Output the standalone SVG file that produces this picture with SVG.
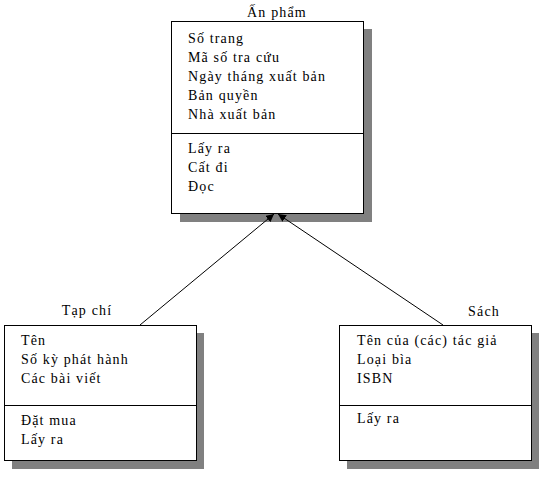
<svg xmlns="http://www.w3.org/2000/svg" width="549" height="480" viewBox="0 0 549 480">
<style>
text{font-family:"Liberation Serif","Times New Roman",serif;font-size:14px;fill:#000;letter-spacing:1.15px}
.box{fill:#fff;stroke:#000;stroke-width:1}
.shadow{fill:#808080}
.sep{stroke:#000;stroke-width:1}
.conn{stroke:#000;stroke-width:1;fill:none}
.t{text-anchor:middle}
</style>
<defs>
<marker id="arr" viewBox="0 0 10 10" refX="10" refY="5" markerWidth="8" markerHeight="8" orient="auto" markerUnits="userSpaceOnUse">
<path d="M0,0 L10,5 L0,10 z" fill="#000"/>
</marker>
</defs>
<rect width="549" height="480" fill="#fff"/>
<g id="an-pham">
<rect class="shadow" x="180" y="29" width="192" height="193"/>
<rect class="box" x="171.5" y="21.5" width="192" height="192"/>
<line class="sep" x1="171.5" y1="133.5" x2="363.5" y2="133.5"/>
<text class="t" x="277" y="17">Ấn phẩm</text>
<text x="188" y="43">Số trang</text>
<text x="188" y="62">Mã số tra cứu</text>
<text x="188" y="81">Ngày tháng xuất bản</text>
<text x="188" y="100">Bản quyền</text>
<text x="188" y="119">Nhà xuất bản</text>
<text x="188" y="153">Lấy ra</text>
<text x="188" y="172">Cất đi</text>
<text x="188" y="191">Đọc</text>
</g>
<g id="tap-chi">
<rect class="shadow" x="12" y="333" width="192" height="136"/>
<rect class="box" x="4.5" y="325.5" width="192" height="135"/>
<line class="sep" x1="4.5" y1="405.5" x2="196.5" y2="405.5"/>
<text class="t" x="87" y="315">Tạp chí</text>
<text x="21" y="345">Tên</text>
<text x="21" y="364">Số kỳ phát hành</text>
<text x="21" y="383">Các bài viết</text>
<text x="21" y="425">Đặt mua</text>
<text x="21" y="444">Lấy ra</text>
</g>
<g id="sach">
<rect class="shadow" x="347" y="333" width="192" height="136"/>
<rect class="box" x="339.5" y="325.5" width="192" height="135"/>
<line class="sep" x1="339.5" y1="405.5" x2="531.5" y2="405.5"/>
<text class="t" x="484" y="316">Sách</text>
<text x="357" y="345">Tên của (các) tác giả</text>
<text x="357" y="364">Loại bìa</text>
<text x="357" y="383">ISBN</text>
<text x="357" y="423">Lấy ra</text>
</g>
<g id="connectors">
<line class="conn" x1="140" y1="325" x2="274" y2="214" marker-end="url(#arr)"/>
<line class="conn" x1="443" y1="325" x2="278" y2="214" marker-end="url(#arr)"/>
</g>
</svg>
